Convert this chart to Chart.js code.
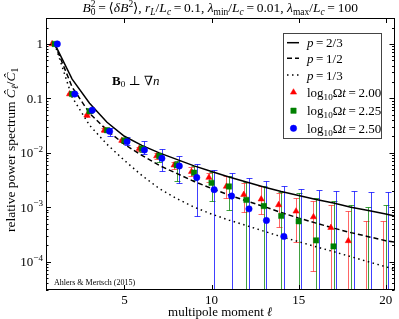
<!DOCTYPE html>
<html>
<head>
<meta charset="utf-8">
<script src="https://cdn.jsdelivr.net/npm/chart.js@4"></script>
<style>
  html, body { margin: 0; padding: 0; background: #fff; }
  canvas { display: block; }
</style>
</head>
<body>
<canvas id="chart" width="399" height="319"></canvas>
<script>
// multipole moments
const ells = [1, 2, 3, 4, 5, 6, 7, 8, 9, 10, 11, 12, 13, 14, 15, 16, 17, 18, 19, 20];
// the model curves run on to the right edge of the frame
const curveElls = [1, 2, 3, 4, 5, 6, 7, 8, 9, 10, 11, 12, 13, 14, 15, 16, 17, 18, 19, 20, 20.5];

// model curves
const curveP23 = [1, 0.226, 0.0815, 0.0364, 0.0201, 0.0137, 0.00996, 0.00755, 0.00573, 0.00454, 0.00359, 0.00290, 0.00235, 0.00194, 0.00164, 0.00138, 0.00119, 0.00100, 0.000865, 0.000746, 0.000685];
const curveP12 = [1, 0.161, 0.0533, 0.0259, 0.0143, 0.00895, 0.00586, 0.00417, 0.00297, 0.00220, 0.00167, 0.00130, 0.00103, 0.000795, 0.000629, 0.000509, 0.000412, 0.000340, 0.000287, 0.000242, 0.000227];
const curveP13 = [1, 0.1052, 0.0320, 0.0143, 0.00724, 0.00383, 0.00220, 0.00144, 0.00100, 0.000746, 0.000578, 0.000458, 0.000362, 0.000287, 0.000232, 0.000187, 0.000152, 0.000123, 0.0000991, 0.0000802, 0.0000721];

// simulation, log10 Ωt = 2.00 (null = not positive, only error bar drawn; lo 0 = down to axis)
const red = [1, 0.12, 0.049, 0.026, 0.0168, 0.0119, 0.0087, 0.0059, 0.0045, 0.0035, 0.0024, 0.0017, 0.0014, 0.0011, 0.00084, 0.00066, 0.00042, 0.00024, null, null];
const redHi = [1, 0.125, 0.052, 0.028, 0.018, 0.013, 0.0098, 0.0069, 0.0055, 0.0043, 0.0037, 0.0028, 0.0025, 0.0018, 0.0015, 0.0013, 0.0011, 0.00085, 0.00056, 0.00056];
const redLo = [1, 0.115, 0.046, 0.024, 0.0155, 0.0108, 0.0077, 0.0051, 0.0038, 0.0029, 0.0015, 0.0008, 0.00075, 0.00044, 0.00023, 0.000068, 0, 0, 0, 0];

// log10 Ωt = 2.25
const green = [1, 0.12, 0.058, 0.026, 0.0168, 0.0119, 0.0087, 0.0059, 0.0043, 0.0028, 0.0024, 0.00136, 0.00105, 0.00069, 0.00055, 0.000245, 0.00019, null, null, null];
const greenHi = [1, 0.126, 0.062, 0.028, 0.0185, 0.0135, 0.0101, 0.0072, 0.0057, 0.0044, 0.0037, 0.0029, 0.0024, 0.0019, 0.0018, 0.0015, 0.0013, 0.0011, 0.001, 0.0011];
const greenLo = [1, 0.114, 0.054, 0.024, 0.015, 0.0103, 0.0067, 0.003, 0.0032, 0.0013, 0.0009, 0, 0, 0, 0, 0, 0, 0, 0, 0];

// log10 Ωt = 2.50
const blue = [1, 0.12, 0.0605, 0.0248, 0.016, 0.0112, 0.0079, 0.0057, 0.0035, 0.0021, 0.0016, 0.00093, 0.00057, 0.00029, null, null, null, null, null, null];
const blueHi = [1, 0.125, 0.063, 0.0288, 0.0198, 0.0164, 0.0116, 0.0087, 0.0063, 0.0048, 0.0042, 0.0034, 0.003, 0.0025, 0.0022, 0.0021, 0.002, 0.002, 0.0019, 0.0019];
const blueLo = [1, 0.115, 0.058, 0.0204, 0.0138, 0.0093, 0.0047, 0.0028, 0.00068, 0, 0, 0, 0, 0, 0, 0, 0, 0, 0, 0];

// axes
const xTicks = [5, 10, 15, 20];
const yTicks = [1, 0.1, 1e-2, 1e-3, 1e-4];
const yTickLabels = [[['1']], [['0.1']], [['10'], ['\u22122', '^']], [['10'], ['\u22123', '^']], [['10'], ['\u22124', '^']]];

const SERIF = '"Liberation Serif", "DejaVu Serif", serif';

// parts: [text, flags]  flags: i italic, b bold, _ sub, ^ sup, k no advance
function richText(ctx, parts, x, y, size, align) {
  const runs = parts.map(([t, f = '']) => {
    const small = f.includes('_') || f.includes('^');
    const font = (f.includes('i') ? 'italic ' : '') + (f.includes('b') ? 'bold ' : '') +
      (small ? size * 0.7 : size) + 'px ' + SERIF;
    ctx.font = font;
    return {
      t, font, w: ctx.measureText(t).width,
      dy: f.includes('_') ? size * 0.22 : f.includes('^') ? -size * 0.4 : 0,
      keep: f.includes('k')
    };
  });
  let total = 0;
  runs.forEach(r => { if (!r.keep) total += r.w; });
  let cx = align === 'center' ? x - total / 2 : align === 'right' ? x - total : x;
  ctx.textAlign = 'left';
  ctx.textBaseline = 'alphabetic';
  runs.forEach(r => {
    ctx.font = r.font;
    ctx.fillText(r.t, cx, y + r.dy);
    if (!r.keep) cx += r.w;
  });
  return total;
}

const SHIFT = 0.15;
function points(vals, shift) {
  return ells.map((l, i) => ({ x: l + shift, y: vals[i] }));
}
function curve(vals) {
  return curveElls.map((l, i) => ({ x: l, y: vals[i] }));
}

const lineStyle = { showLine: true, pointRadius: 0, borderColor: '#000', borderWidth: 1.5, fill: false, tension: 0 };

const datasets = [
  { label: 'p = 2/3', data: curve(curveP23), ...lineStyle, borderDash: [], order: 4 },
  { label: 'p = 1/2', data: curve(curveP12), ...lineStyle, borderDash: [5, 3], order: 5 },
  { label: 'p = 1/3', data: curve(curveP13), ...lineStyle, borderDash: [1.5, 3.5], order: 6 },
  { label: 'log10 Ωt = 2.00', data: points(red, -SHIFT), pointStyle: 'triangle', pointRadius: 3.6,
    backgroundColor: '#ff0000', borderColor: '#ff0000', borderWidth: 0.5, order: 3,
    errHi: redHi, errLo: redLo, errColor: 'rgba(255,0,0,0.6)', shift: -SHIFT },
  { label: 'log10 Ωt = 2.25', data: points(green, 0), pointStyle: 'rect', pointRadius: 3.8,
    backgroundColor: '#008000', borderColor: '#008000', borderWidth: 0.5, order: 2,
    errHi: greenHi, errLo: greenLo, errColor: 'rgba(0,128,0,0.75)', shift: 0 },
  { label: 'log10 Ωt = 2.50', data: points(blue, SHIFT), pointStyle: 'circle', pointRadius: 3.2,
    backgroundColor: '#0000ff', borderColor: '#0000ff', borderWidth: 0.5, order: 1,
    errHi: blueHi, errLo: blueLo, errColor: 'rgba(0,0,255,0.75)', shift: SHIFT }
];

const errorBars = {
  id: 'errorBars',
  beforeDatasetsDraw(chart) {
    const { ctx, chartArea: a, scales: { x, y } } = chart;
    ctx.save();
    ctx.beginPath();
    ctx.rect(a.left, a.top, a.width, a.height);
    ctx.clip();
    ctx.lineWidth = 1;
    chart.data.datasets.forEach(ds => {
      if (!ds.errHi) return;
      ctx.strokeStyle = ds.errColor;
      ds.errHi.forEach((hi, i) => {
        const lo = ds.errLo[i];
        if (hi === lo) return;
        const px = Math.round(x.getPixelForValue(ells[i] + ds.shift)) + 0.5;
        const top = Math.round(y.getPixelForValue(hi)) + 0.5;
        const bot = lo > 0 ? Math.round(y.getPixelForValue(lo)) + 0.5 : a.bottom + 3;
        ctx.beginPath();
        ctx.moveTo(px, top); ctx.lineTo(px, bot);
        ctx.moveTo(px - 3, top); ctx.lineTo(px + 3, top);
        if (lo > 0) { ctx.moveTo(px - 3, bot); ctx.lineTo(px + 3, bot); }
        ctx.stroke();
      });
    });
    ctx.restore();
  }
};

const decorations = {
  id: 'decorations',
  afterDraw(chart) {
    const { ctx, chartArea: a, scales: { x, y } } = chart;
    ctx.save();
    ctx.fillStyle = '#000';
    ctx.strokeStyle = '#000';
    ctx.lineWidth = 1;

    // frame
    ctx.strokeRect(Math.round(a.left) + 0.5, Math.round(a.top) + 0.5,
      Math.round(a.width) - 1, Math.round(a.height) - 1);

    // x ticks (bottom and top)
    ctx.beginPath();
    xTicks.forEach(v => {
      const px = Math.round(x.getPixelForValue(v)) + 0.5;
      ctx.moveTo(px, a.bottom); ctx.lineTo(px, a.bottom - 5);
      ctx.moveTo(px, a.top); ctx.lineTo(px, a.top + 5);
    });
    // y ticks, major and minor, left and right
    for (let d = -5; d <= 0; d++) {
      for (let m = 1; m <= 9; m++) {
        const v = m * Math.pow(10, d);
        if (v < y.min || v > y.max) continue;
        const py = Math.round(y.getPixelForValue(v)) + 0.5;
        const len = m === 1 ? 5 : 2.5;
        ctx.moveTo(a.left, py); ctx.lineTo(a.left + len, py);
        ctx.moveTo(a.right, py); ctx.lineTo(a.right - len, py);
      }
    }
    ctx.stroke();

    // tick labels
    xTicks.forEach(v => richText(ctx, [[String(v)]], x.getPixelForValue(v), 303.5, 13, 'center'));
    yTicks.forEach((v, i) => richText(ctx, yTickLabels[i], 43, y.getPixelForValue(v) + 4.5, 13, 'right'));

    // axis titles
    richText(ctx, [['multipole moment '], ['\u2113', 'i']], (a.left + a.right) / 2, 316, 13, 'center');
    ctx.save();
    ctx.translate(15, 232);
    ctx.rotate(-Math.PI / 2);
    richText(ctx, [['relative power spectrum '], ['\u0108', 'i'], ['\u2113', 'i_'], ['/'], ['\u0108', 'i'], ['1', '_']], 0, 0, 13.5, 'left');
    ctx.restore();

    // title
    richText(ctx, [['B', 'i'], ['0', '_k'], ['2', '^'], ['\u2009=\u2009\u27e8'], ['\u03b4B', 'i'], ['2', '^'], ['\u27e9, '],
      ['r', 'i'], ['L', 'i_'], ['/'], ['L', 'i'], ['c', 'i_'], ['\u2009=\u20090.1, '],
      ['\u03bb', 'i'], ['min', '_'], ['/'], ['L', 'i'], ['c', 'i_'], ['\u2009=\u20090.01, '],
      ['\u03bb', 'i'], ['max', '_'], ['/'], ['L', 'i'], ['c', 'i_'], ['\u2009=\u2009100']],
      (a.left + a.right) / 2, 12, 13.5, 'center');

    // annotations
    richText(ctx, [['B', 'b'], ['0', '_'], [' \u22a5 \u2207'], ['n', 'i']], 112, 84.5, 13, 'left');
    richText(ctx, [['Ahlers & Mertsch (2015)']], 54, 285, 8, 'left');

    // legend
    const lx = 283, ly = 33, lw = 98, lh = 105;
    ctx.fillStyle = '#fff';
    ctx.fillRect(lx, ly, lw, lh);
    ctx.strokeStyle = '#444';
    ctx.strokeRect(lx + 0.5, ly + 0.5, lw, lh);
    const rows = [42.7, 58.3, 75, 92.3, 110.7, 128.3];
    const names = [
      [['p', 'i'], ['\u2009=\u20092/3']], [['p', 'i'], ['\u2009=\u20091/2']], [['p', 'i'], ['\u2009=\u20091/3']],
      [['log'], ['10', '_'], ['\u03a9'], ['t', 'i'], ['\u2009=\u20092.00']],
      [['log'], ['10', '_'], ['\u03a9'], ['t', 'i'], ['\u2009=\u20092.25']],
      [['log'], ['10', '_'], ['\u03a9'], ['t', 'i'], ['\u2009=\u20092.50']]
    ];
    datasets.forEach((ds, i) => {
      const ry = rows[i];
      if (ds.showLine) {
        ctx.strokeStyle = '#000';
        ctx.lineWidth = 1.5;
        ctx.setLineDash(ds.borderDash);
        ctx.beginPath();
        ctx.moveTo(287, ry); ctx.lineTo(299, ry);
        ctx.stroke();
        ctx.setLineDash([]);
      } else {
        ctx.fillStyle = ds.backgroundColor;
        ctx.strokeStyle = ds.borderColor;
        ctx.lineWidth = 0.5;
        Chart.helpers.drawPoint(ctx, { pointStyle: ds.pointStyle, radius: ds.pointRadius, rotation: 0, borderWidth: 0.5 }, 293.5, ry);
      }
      ctx.fillStyle = '#000';
      richText(ctx, names[i], 307, ry + 4.5, 13, 'left');
    });
    ctx.restore();
  }
};

new Chart(document.getElementById('chart'), {
  type: 'scatter',
  data: { datasets },
  options: {
    responsive: false,
    animation: false,
    layout: { padding: { left: 46, right: 1, top: 18, bottom: 29 } },
    plugins: { legend: { display: false }, tooltip: { enabled: false } },
    scales: {
      x: { type: 'linear', min: 0.5, max: 20.5, display: false },
      y: { type: 'logarithmic', min: 3e-5, max: 3, display: false }
    }
  },
  plugins: [errorBars, decorations]
});
</script>
</body>
</html>
